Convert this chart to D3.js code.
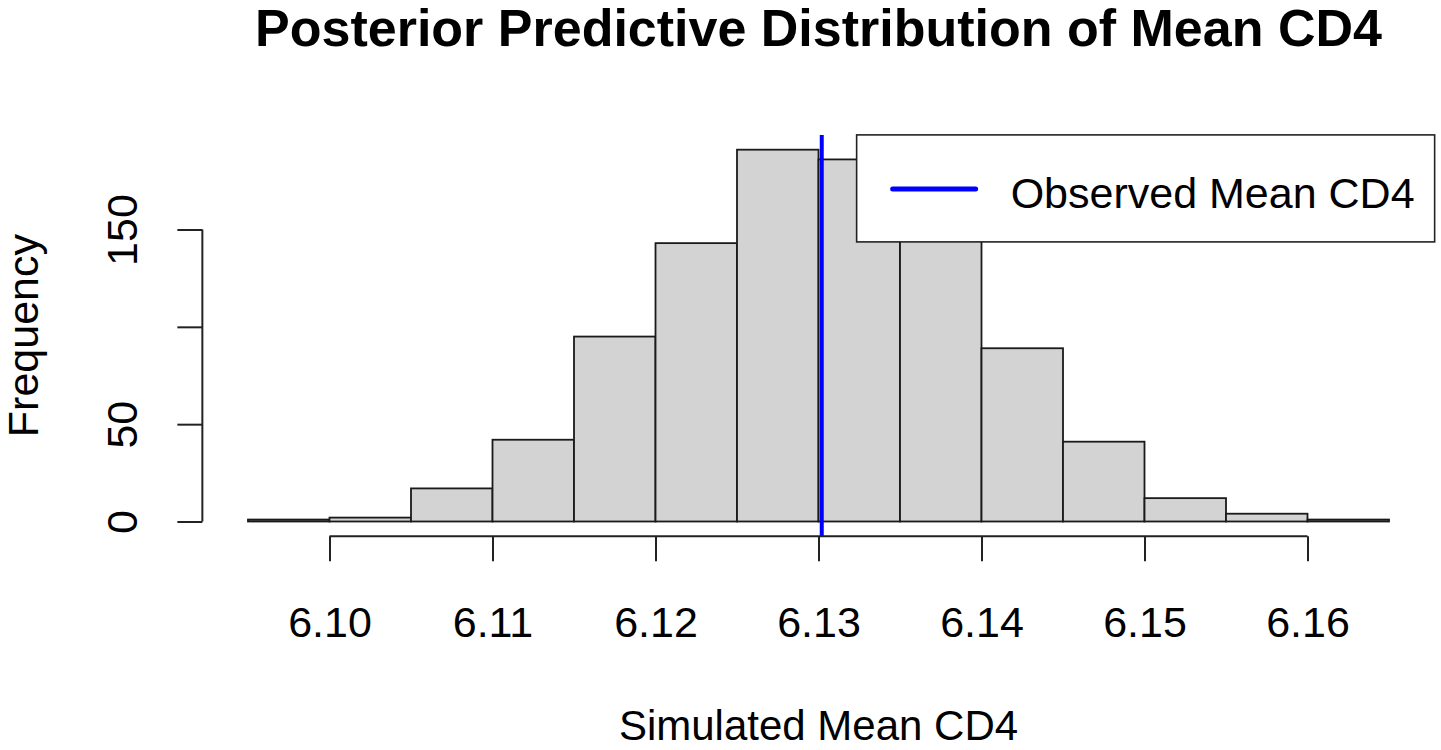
<!DOCTYPE html>
<html>
<head>
<meta charset="utf-8">
<script src="https://cdn.jsdelivr.net/npm/d3@7"></script>
<style>
    body { margin: 0; background: #fff; }
    text { font-family: "Liberation Sans", Arial, sans-serif; fill: #000; }
</style>
</head>
<body>
<div id="chart"></div>
<script>
// histogram bins (left edges) and counts, bin width 0.005
const binStarts = [6.095, 6.100, 6.105, 6.110, 6.115, 6.120, 6.125, 6.130, 6.135, 6.140, 6.145, 6.150, 6.155, 6.160];
const counts = [1, 2, 17, 42, 95, 143, 191, 186, 150, 89, 41, 12, 4, 1];
const binWidth = 0.005;
const xTicks = [6.10, 6.11, 6.12, 6.13, 6.14, 6.15, 6.16];
const yTicks = [0, 50, 100, 150];
const yLabels = ["0", "50", "", "150"];
const observedMean = 6.1302;

const width = 1441, height = 750;

const svg = d3.select("#chart").append("svg")
    .attr("width", width)
    .attr("height", height);

const x = d3.scaleLinear().domain([6.095, 6.165]).range([248, 1389]);
const y = d3.scaleLinear().domain([0, 150]).range([521.5, 229.5]);

// plot region (R style 4% padding)
const plotTop = y(198.6), plotBottom = y(-7.6);
const plotLeft = x(6.0922), plotRight = x(6.1678);

// Bars
svg.append("g").selectAll("rect")
    .data(binStarts)
    .enter()
    .append("rect")
    .attr("x", d => x(d))
    .attr("y", (d, i) => y(counts[i]))
    .attr("width", d => x(d + binWidth) - x(d))
    .attr("height", (d, i) => y(0) - y(counts[i]))
    .attr("fill", "#d3d3d3")
    .attr("stroke", "#1a1a1a")
    .attr("stroke-width", 1.8);

// Observed mean line
svg.append("line")
    .attr("x1", x(observedMean)).attr("x2", x(observedMean))
    .attr("y1", plotTop).attr("y2", plotBottom)
    .attr("stroke", "#0000ff")
    .attr("stroke-width", 4);

// X axis
const xAxis = d3.axisBottom(x).tickValues(xTicks).tickSize(25).tickPadding(45)
    .tickFormat(d3.format(".2f"));
const gx = svg.append("g")
    .attr("transform", `translate(0,${plotBottom})`)
    .call(xAxis);
gx.select(".domain").remove();
gx.append("line")
    .attr("x1", x(xTicks[0])).attr("x2", x(xTicks[xTicks.length - 1]))
    .attr("stroke", "#222").attr("stroke-width", 2);
gx.selectAll(".tick line").attr("stroke", "#222").attr("stroke-width", 2);
gx.selectAll(".tick text")
    .style("font-size", "43px")
    .attr("fill", "#000");

// Y axis
const yAxis = d3.axisLeft(y).tickValues(yTicks).tickSize(25).tickFormat((d, i) => yLabels[i]);
const gy = svg.append("g")
    .attr("transform", `translate(${plotLeft},0)`)
    .call(yAxis);
gy.select(".domain").remove();
gy.append("line")
    .attr("y1", y(yTicks[0])).attr("y2", y(yTicks[yTicks.length - 1]))
    .attr("stroke", "#222").attr("stroke-width", 2);
gy.selectAll(".tick line").attr("stroke", "#222").attr("stroke-width", 2);
gy.selectAll(".tick text")
    .attr("x", 0).attr("y", 0).attr("dy", null)
    .attr("transform", "translate(-65,0) rotate(-90)")
    .attr("text-anchor", "middle")
    .style("font-size", "43px")
    .attr("fill", "#000");

// Legend (top right)
const legW = 578, legH = 107;
const lg = svg.append("g").attr("transform", `translate(${plotRight - legW},${plotTop})`);
lg.append("rect")
    .attr("width", legW).attr("height", legH)
    .attr("fill", "#fff").attr("stroke", "#222").attr("stroke-width", 1.6);
lg.append("line")
    .attr("x1", 36).attr("x2", 119).attr("y1", 54).attr("y2", 54)
    .attr("stroke", "#0000ff").attr("stroke-width", 5).attr("stroke-linecap", "round");
lg.append("text")
    .attr("x", 154).attr("y", 73)
    .style("font-size", "43px")
    .text("Observed Mean CD4");

// Title
svg.append("text")
    .attr("x", (plotLeft + plotRight) / 2).attr("y", 46)
    .attr("text-anchor", "middle")
    .style("font-size", "52px").style("font-weight", "bold")
    .text("Posterior Predictive Distribution of Mean CD4");

// Axis titles
svg.append("text")
    .attr("x", (plotLeft + plotRight) / 2).attr("y", 740)
    .attr("text-anchor", "middle")
    .style("font-size", "42px")
    .text("Simulated Mean CD4");

svg.append("text")
    .attr("transform", `translate(38,${(plotTop + plotBottom) / 2}) rotate(-90)`)
    .attr("text-anchor", "middle")
    .style("font-size", "43px")
    .text("Frequency");
</script>
</body>
</html>
